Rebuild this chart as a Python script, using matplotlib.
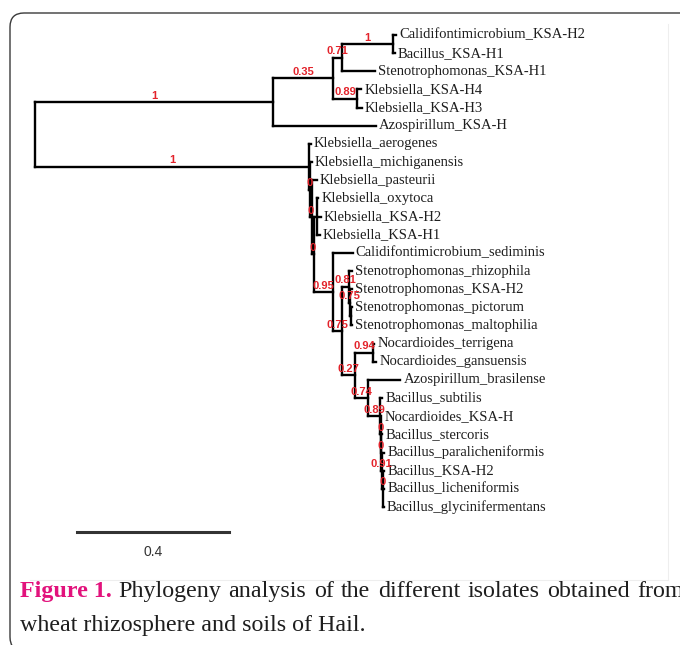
import numpy as np
import matplotlib
matplotlib.use("Agg")
import matplotlib.pyplot as plt
from matplotlib.patches import FancyBboxPatch
from matplotlib.transforms import IdentityTransform

# tips, top to bottom
tips = [
    "Calidifontimicrobium_KSA-H2", "Bacillus_KSA-H1", "Stenotrophomonas_KSA-H1",
    "Klebsiella_KSA-H4", "Klebsiella_KSA-H3", "Azospirillum_KSA-H",
    "Klebsiella_aerogenes", "Klebsiella_michiganensis", "Klebsiella_pasteurii",
    "Klebsiella_oxytoca", "Klebsiella_KSA-H2", "Klebsiella_KSA-H1",
    "Calidifontimicrobium_sediminis", "Stenotrophomonas_rhizophila",
    "Stenotrophomonas_KSA-H2", "Stenotrophomonas_pictorum",
    "Stenotrophomonas_maltophilia", "Nocardioides_terrigena",
    "Nocardioides_gansuensis", "Azospirillum_brasilense", "Bacillus_subtilis",
    "Nocardioides_KSA-H", "Bacillus_stercoris", "Bacillus_paralicheniformis",
    "Bacillus_KSA-H2", "Bacillus_licheniformis", "Bacillus_glycinifermentans",
]

# edge table: child, parent, branch length, bootstrap support
child = ["U", "A", "B", "C", tips[0], tips[1], tips[2], "D", tips[3], tips[4], tips[5],
         "L", tips[6], "N1", tips[7], "N2", tips[8], "N3", "N4", tips[9], tips[10], tips[11],
         "M", tips[12], "M2", "S1", tips[13], "S2", tips[14], "S3", tips[15], tips[16],
         "R", "Q0", tips[17], tips[18], "Q", tips[19], "B0", tips[20], "B2", tips[21],
         "B3", tips[22], "B4", tips[23], "B5", tips[24], tips[25], tips[26]]
parent = ["root", "U", "A", "B", "C", "C", "B", "A", "D", "D", "U",
          "root", "L", "L", "N1", "N1", "N2", "N2", "N3", "N4", "N4", "N4",
          "N3", "M", "M", "M2", "S1", "S1", "S2", "S2", "S3", "S3",
          "M2", "R", "Q0", "Q0", "R", "Q", "Q", "B0", "B0", "B2",
          "B2", "B3", "B3", "B4", "B4", "B5", "B5", "B5"]
blen = [0.626, 0.158, 0.024, 0.134, 0.008, 0.005, 0.087, 0.063, 0.011, 0.013, 0.271,
        0.721, 0.005, 0.003, 0.004, 0.004, 0.013, 0.005, 0.008, 0.005, 0.011, 0.008,
        0.050, 0.053, 0.026, 0.016, 0.008, 0.003, 0.005, 0.003, 0.003, 0.003,
        0.034, 0.047, 0.003, 0.008, 0.034, 0.084, 0.032, 0.005, 0.001, 0.001,
        0.001, 0.003, 0.003, 0.005, 0.001, 0.004, 0.004, 0.003]
support = ["1", "0.35", "0.71", "1", "", "", "", "0.89", "", "", "",
           "1", "", "0", "", "0", "", "0", "", "", "", "",
           "0.95", "", "0.75", "0.81", "", "0.75", "", "", "", "",
           "0.27", "0.94", "", "", "0.74", "", "0.89", "", "0", "",
           "0", "", "0.91", "", "0", "", "", ""]

scale_len = 0.4

caption_head = "Figure 1."
caption_1 = "Phylogeny analysis of the different isolates obtained from"
caption_2 = "wheat rhizosphere and soils of Hail."

# layout
kids = {}
for c, p in zip(child, parent):
    kids.setdefault(p, []).append(c)
plen = dict(zip(child, blen))
xpos = {"root": 0.0}
ypos = {}


def place(node):
    for k in kids.get(node, []):
        xpos[k] = xpos[node] + plen[k]
        place(k)
    if node in kids:
        ys = [ypos[k] for k in kids[node]]
        ypos[node] = (min(ys) + max(ys)) / 2
    else:
        ypos[node] = tips.index(node)


place("root")

W, H = 680, 645
px_unit = 380.0
px_tip = 18.154
x0, y0 = 35, 35

fig = plt.figure(figsize=(W / 100, H / 100), dpi=100)
ax = fig.add_axes([0, 0, 1, 1])
ax.set_xlim(-x0 / px_unit, (W - x0) / px_unit)
ax.set_ylim((H - y0) / px_tip, -y0 / px_tip)
ax.axis("off")

lw = 1.7
for node, ch in kids.items():
    ys = [ypos[k] for k in ch]
    ax.plot([xpos[node], xpos[node]], [min(ys), max(ys)], color="black", lw=lw,
            solid_capstyle="projecting")
for c, p in zip(child, parent):
    ax.plot([xpos[p], xpos[c]], [ypos[c], ypos[c]], color="black", lw=lw,
            solid_capstyle="projecting")

for t in tips:
    ax.annotate(t, (xpos[t], ypos[t]), xytext=(2.3, 0), textcoords="offset points",
                ha="left", va="center", fontsize=10.5, family="Liberation Serif",
                color="#1e1e1e")

for c, p, s in zip(child, parent, support):
    if s:
        ax.annotate(s, ((xpos[p] + xpos[c]) / 2, ypos[c]), xytext=(0, 1.0),
                    textcoords="offset points", ha="center", va="bottom",
                    fontsize=8.0, fontweight="bold", family="Liberation Sans",
                    color="#e3232b")

# scale bar
sb_x = 0.111
sb_y = len(tips) + 0.38
ax.plot([sb_x, sb_x + scale_len], [sb_y, sb_y], color="#333333", lw=2.2)
ax.annotate(str(scale_len), (sb_x + scale_len / 2, sb_y), xytext=(0, -9),
            textcoords="offset points", ha="center", va="top", fontsize=10,
            family="Liberation Sans", color="#333333")

# faint frame of the tree image
fig.add_artist(plt.Line2D([30, 668], [H - 580, H - 580], transform=IdentityTransform(),
                          color="#eeeeee", lw=0.8))
fig.add_artist(plt.Line2D([668, 668], [H - 580, H - 24], transform=IdentityTransform(),
                          color="#eeeeee", lw=0.8))

# rounded border
box = FancyBboxPatch((10, -6), 720, H - 13 + 6, boxstyle="round,pad=0,rounding_size=14",
                     transform=IdentityTransform(), fill=False, ec="#3a3a3a", lw=1.0)
fig.add_artist(box)

# caption (first line justified, runs past the right edge like the source)
cap_kw = dict(fontsize=17.3, family="Liberation Serif", ha="left", va="baseline")
fig.text(20 / W, 1 - 597 / H, caption_head, fontweight="bold", color="#e2127c", **cap_kw)
renderer = fig.canvas.get_renderer()
words = caption_1.split()
arts = [fig.text(0, 1 - 597 / H, w, color="#1e1e1e", **cap_kw) for w in words]
widths = [a.get_window_extent(renderer).width for a in arts]
left, right = 118, 684
gap = (right - left - sum(widths)) / (len(words) - 1)
xx = left
for a, wd in zip(arts, widths):
    a.set_x(xx / W)
    xx += wd + gap
fig.text(20 / W, 1 - 631 / H, caption_2, color="#1e1e1e", **cap_kw)

fig.savefig("out.png", dpi=100)
